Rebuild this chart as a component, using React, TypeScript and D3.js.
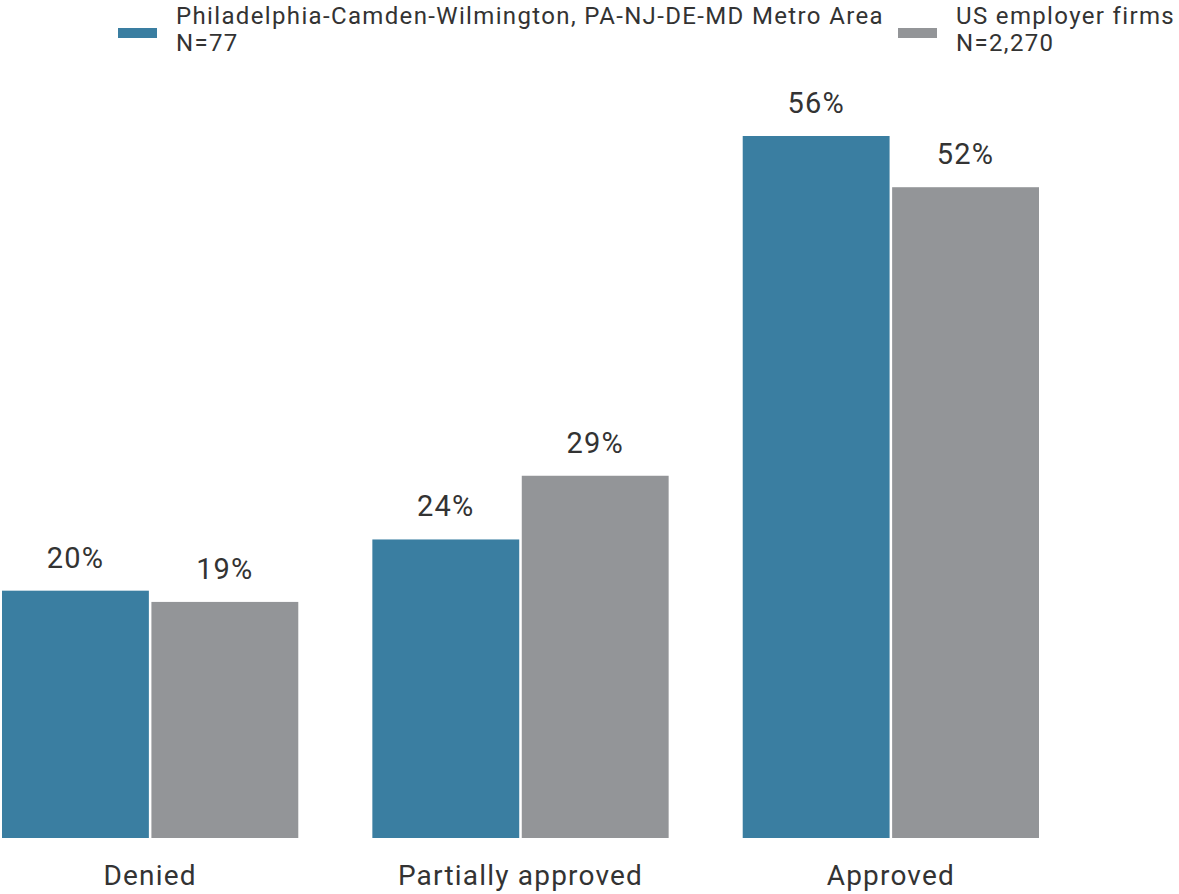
import React from "react";
import * as d3 from "d3";

const categories = ["Denied", "Partially approved", "Approved"];
const seriesNames = ["Philadelphia-Camden-Wilmington, PA-NJ-DE-MD Metro Area", "US employer firms"];
const seriesN = ["N=77", "N=2,270"];
const phillyValues = [19.8, 23.9, 56.2];
const usValues = [18.9, 29.0, 52.1];
const phillyLabels = ["20%", "24%", "56%"];
const usLabels = ["19%", "29%", "52%"];
const colors = ["#3a7ea1", "#939598"];

const W = 1179;
const H = 894;
const FONT = "Roboto, 'Noto Sans', sans-serif";

export default function App() {
  const baseline = 838;
  const x0 = d3.scaleBand<string>().domain(categories).range([2, 1039]).paddingInner(0.2).paddingOuter(0);
  const x1 = d3.scaleBand<string>().domain(["a", "b"]).range([0, x0.bandwidth()]).paddingInner(0.017);
  const y = d3.scaleLinear().domain([0, 56.2]).range([baseline, 136]);
  const series = [
    { key: "a", values: phillyValues, labels: phillyLabels, color: colors[0] },
    { key: "b", values: usValues, labels: usLabels, color: colors[1] },
  ];
  const legendX = [118, 898];
  return (
    <svg width={W} height={H} style={{ position: "absolute", left: 0, top: 0, background: "#fff" }} fontFamily={FONT}>
      {seriesNames.map((name, i) => (
        <g key={name}>
          <rect x={legendX[i]} y={28} width={39} height={10} fill={colors[i]} />
          <text x={legendX[i] + 58} y={24} fontSize={24} letterSpacing={1.35} fill="#333">{name}</text>
          <text x={legendX[i] + 58} y={51} fontSize={24} letterSpacing={1.35} fill="#333">{seriesN[i]}</text>
        </g>
      ))}
      {categories.map((c, ci) => (
        <g key={c} transform={`translate(${x0(c)},0)`}>
          {series.map((s) => {
            const bx = x1(s.key)!;
            const top = y(s.values[ci]);
            return (
              <g key={s.key}>
                <rect x={bx} y={top} width={x1.bandwidth()} height={baseline - top} fill={s.color} />
                <text x={bx + x1.bandwidth() / 2} y={top - 23} textAnchor="middle" fontSize={29} letterSpacing={1.2} fill="#333">
                  {s.labels[ci]}
                </text>
              </g>
            );
          })}
          <text x={x0.bandwidth() / 2} y={885} textAnchor="middle" fontSize={28} letterSpacing={1.2} fill="#333">{c}</text>
        </g>
      ))}
    </svg>
  );
}
